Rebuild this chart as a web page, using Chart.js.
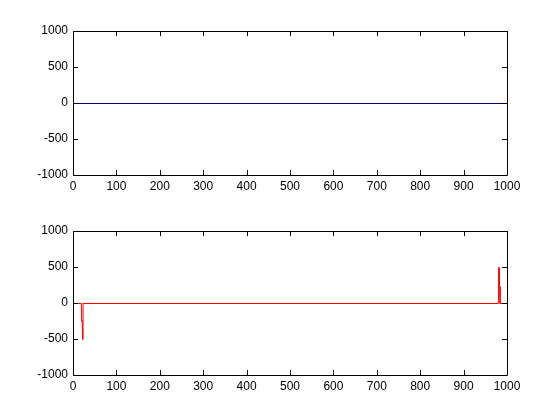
<!DOCTYPE html>
<html>
<head>
<meta charset="utf-8">
<script src="https://cdn.jsdelivr.net/npm/chart.js@4"></script>
<style>
  html, body { margin: 0; padding: 0; background: #fff; }
  #wrap { position: relative; width: 560px; height: 420px; }
  .box { position: absolute; left: 0; width: 560px; }
</style>
</head>
<body>
<div id="wrap">
  <div class="box" style="top:0;height:200px"><canvas id="top"></canvas></div>
  <div class="box" style="top:200px;height:220px"><canvas id="bottom"></canvas></div>
</div>
<script>
// tick labels
const xTicks = [0, 100, 200, 300, 400, 500, 600, 700, 800, 900, 1000];
const yTicks = [-1000, -500, 0, 500, 1000];

// top subplot: flat signal
const topX = [0, 1000];
const topY = [0, 0];

// bottom subplot: spikes near both ends
const bottomX = [0, 18, 19, 20, 21, 22, 979, 980, 981, 982, 983, 1000];
const bottomY = [0, 0, -250, -240, -500, 0, 0, 500, 250, 240, 0, 0];

const FONT = { family: '"Liberation Sans", Arial, sans-serif', size: 12 };

// MATLAB-like box with inward ticks
const boxTicks = {
  id: 'boxTicks',
  beforeDatasetsDraw(chart) {
    // keep 1px lines crisp
    chart.ctx.save();
    chart.ctx.translate(0.5, 0.5);
  },
  afterDatasetsDraw(chart) {
    chart.ctx.restore();
  },
  afterDraw(chart) {
    const { ctx, chartArea: a, scales } = chart;
    const len = 5;
    ctx.save();
    ctx.strokeStyle = '#000';
    ctx.lineWidth = 1;
    ctx.beginPath();
    ctx.rect(Math.round(a.left) + 0.5, Math.round(a.top) + 0.5,
      Math.round(a.right - a.left), Math.round(a.bottom - a.top));
    xTicks.forEach((v) => {
      const px = Math.round(scales.x.getPixelForValue(v)) + 0.5;
      ctx.moveTo(px, a.bottom);
      ctx.lineTo(px, a.bottom - len);
      ctx.moveTo(px, a.top);
      ctx.lineTo(px, a.top + len);
    });
    yTicks.forEach((v) => {
      const py = Math.round(scales.y.getPixelForValue(v)) + 0.5;
      ctx.moveTo(a.left, py);
      ctx.lineTo(a.left + len, py);
      ctx.moveTo(a.right, py);
      ctx.lineTo(a.right - len, py);
    });
    ctx.stroke();
    ctx.restore();
  },
};

function makeChart(canvas, xs, ys, color, xHeight) {
  const points = xs.map((x, i) => ({ x: x, y: ys[i] }));
  return new Chart(canvas, {
    type: 'line',
    data: {
      datasets: [
        {
          data: points,
          borderColor: color,
          borderWidth: 1,
          pointRadius: 0,
          tension: 0,
        },
      ],
    },
    options: {
      animation: false,
      responsive: true,
      maintainAspectRatio: false,
      layout: { padding: { left: 0, right: 53, top: 31, bottom: 0 } },
      plugins: { legend: false, tooltip: { enabled: false } },
      scales: {
        x: {
          type: 'linear',
          min: 0,
          max: 1000,
          afterBuildTicks(scale) {
            scale.ticks = xTicks.map((v) => ({ value: v }));
          },
          afterFit(scale) {
            scale.height = xHeight;
          },
          grid: { display: false, drawTicks: false },
          border: { display: false },
          ticks: {
            color: '#000',
            font: FONT,
            padding: 4,
            maxRotation: 0,
            autoSkip: false,
            callback: (v) => String(v),
          },
        },
        y: {
          type: 'linear',
          min: -1000,
          max: 1000,
          afterBuildTicks(scale) {
            scale.ticks = yTicks.map((v) => ({ value: v }));
          },
          afterFit(scale) {
            scale.width = 73;
          },
          grid: { display: false, drawTicks: false },
          border: { display: false },
          ticks: { color: '#000', font: FONT, padding: 5, callback: (v) => String(v) },
        },
      },
    },
    plugins: [boxTicks],
  });
}

makeChart(document.getElementById('top'), topX, topY, '#000080', 25);
makeChart(document.getElementById('bottom'), bottomX, bottomY, '#ff0000', 45);
</script>
</body>
</html>
